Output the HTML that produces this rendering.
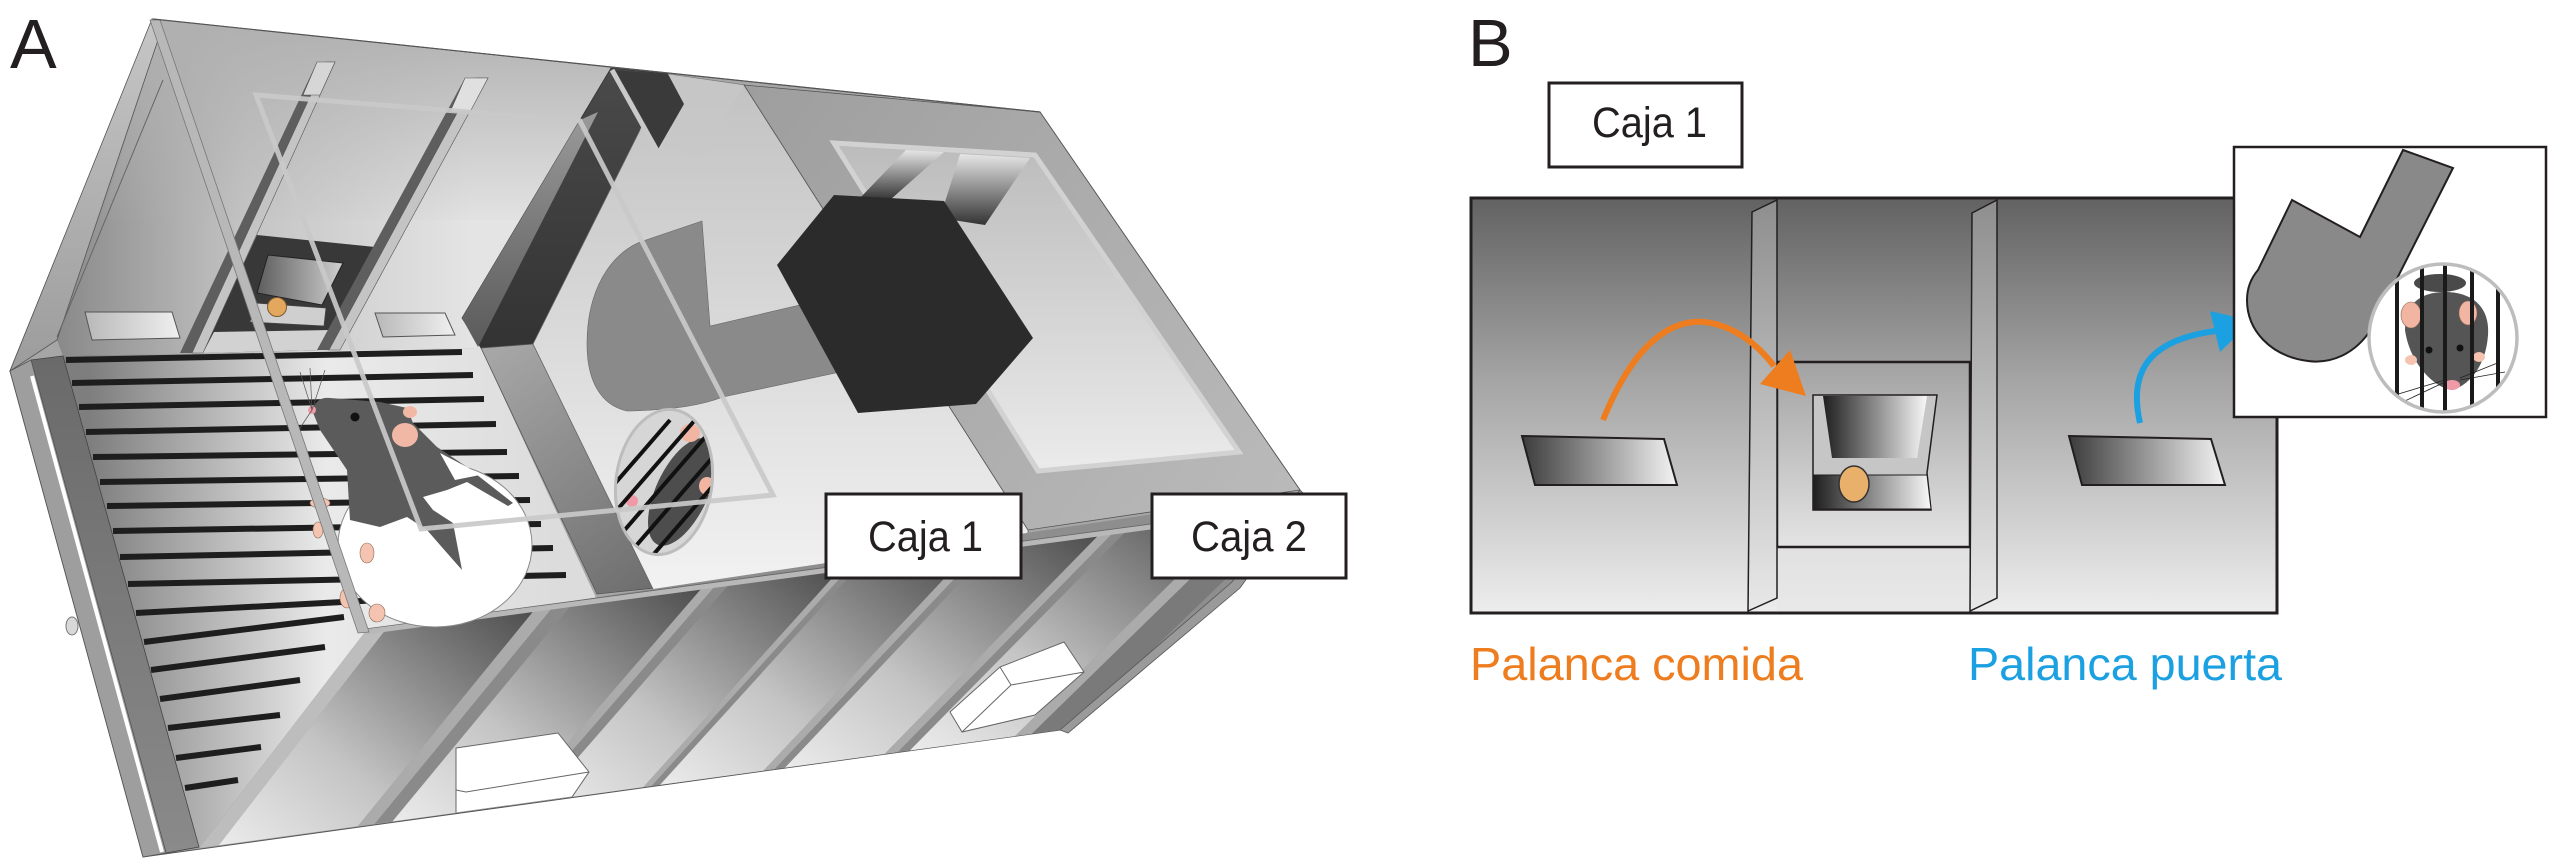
<!DOCTYPE html>
<html><head><meta charset="utf-8"><style>
html,body{margin:0;padding:0;background:#fff;}
svg{display:block;}
text{font-family:"Liberation Sans",Arial,sans-serif;}
</style></head><body>
<svg width="2560" height="867" viewBox="0 0 2560 867" xmlns="http://www.w3.org/2000/svg">
<defs>
<linearGradient id="gBack" gradientUnits="userSpaceOnUse" x1="60" y1="300" x2="470" y2="300"><stop offset="0" stop-color="#8a8a8a"/><stop offset="0.45" stop-color="#c4c4c4"/><stop offset="1" stop-color="#e4e4e4"/></linearGradient>
<linearGradient id="gTopShade" gradientUnits="userSpaceOnUse" x1="0" y1="20" x2="0" y2="230"><stop offset="0" stop-color="#b0b0b0" stop-opacity="1"/><stop offset="1" stop-color="#b0b0b0" stop-opacity="0"/></linearGradient>
<linearGradient id="gLeftFrame" x1="0" y1="0" x2="0" y2="1"><stop offset="0" stop-color="#c6c6c6"/><stop offset="1" stop-color="#9c9c9c"/></linearGradient>
<linearGradient id="gFloor" gradientUnits="userSpaceOnUse" x1="90" y1="0" x2="560" y2="0"><stop offset="0" stop-color="#7e7e7e"/><stop offset="0.5" stop-color="#eaeaea"/><stop offset="1" stop-color="#dcdcdc"/></linearGradient>
<linearGradient id="gDark" x1="0" y1="0" x2="0" y2="1"><stop offset="0" stop-color="#6a6a6a"/><stop offset="1" stop-color="#8a8a8a"/></linearGradient>
<linearGradient id="gSlab" x1="0" y1="0" x2="0" y2="1"><stop offset="0" stop-color="#4a4a4a"/><stop offset="1" stop-color="#333"/></linearGradient>
<linearGradient id="gSlabEdge" x1="0" y1="0" x2="0" y2="1"><stop offset="0" stop-color="#9a9a9a"/><stop offset="1" stop-color="#5a5a5a"/></linearGradient>
<linearGradient id="gFace" gradientUnits="userSpaceOnUse" x1="480" y1="350" x2="650" y2="590"><stop offset="0" stop-color="#a8a8a8"/><stop offset="1" stop-color="#6e6e6e"/></linearGradient>
<linearGradient id="gRFloor" gradientUnits="userSpaceOnUse" x1="0" y1="80" x2="0" y2="590"><stop offset="0" stop-color="#c2c2c2"/><stop offset="1" stop-color="#f2f2f2"/></linearGradient>
<linearGradient id="gLid" gradientUnits="userSpaceOnUse" x1="744" y1="85" x2="1300" y2="500"><stop offset="0" stop-color="#9e9e9e"/><stop offset="1" stop-color="#bababa"/></linearGradient>
<linearGradient id="gLidIn" gradientUnits="userSpaceOnUse" x1="0" y1="145" x2="0" y2="470"><stop offset="0" stop-color="#bcbcbc"/><stop offset="1" stop-color="#ebebeb"/></linearGradient>
<linearGradient id="gPanel" x1="0" y1="1" x2="1" y2="0"><stop offset="0" stop-color="#fbfbfb"/><stop offset="0.45" stop-color="#c4c4c4"/><stop offset="1" stop-color="#4c4c4c"/></linearGradient>
<linearGradient id="gSlot" x1="0" y1="0" x2="1" y2="0"><stop offset="0" stop-color="#b8b8b8"/><stop offset="1" stop-color="#f0f0f0"/></linearGradient>
<linearGradient id="gHopIn" x1="0" y1="0" x2="1" y2="0"><stop offset="0" stop-color="#5d5d5d"/><stop offset="1" stop-color="#d0d0d0"/></linearGradient>
<linearGradient id="gBandA" x1="0" y1="0" x2="0" y2="1"><stop offset="0" stop-color="#e6e6e6"/><stop offset="1" stop-color="#333"/></linearGradient>
<linearGradient id="gB" x1="0" y1="0" x2="0" y2="1"><stop offset="0" stop-color="#626262"/><stop offset="0.45" stop-color="#a6a6a6"/><stop offset="1" stop-color="#ededed"/></linearGradient>
<linearGradient id="gBBar" x1="0" y1="0" x2="0" y2="1"><stop offset="0" stop-color="#8e8e8e"/><stop offset="1" stop-color="#e8e8e8"/></linearGradient>
<linearGradient id="gBHop" x1="0" y1="0" x2="0" y2="1"><stop offset="0" stop-color="#a2a2a2"/><stop offset="1" stop-color="#e4e4e4"/></linearGradient>
<linearGradient id="gLever" x1="0" y1="0" x2="1" y2="0"><stop offset="0" stop-color="#3c3c3c"/><stop offset="1" stop-color="#f4f4f4"/></linearGradient>
<linearGradient id="gHopDark" x1="0" y1="0" x2="1" y2="0"><stop offset="0" stop-color="#1e1e1e"/><stop offset="1" stop-color="#f8f8f8"/></linearGradient>
<clipPath id="frontClip"><polygon points="365,632 1300,492 1232,582 1060,730 199,848"/></clipPath>
<clipPath id="ovalA"><ellipse cx="664" cy="482" rx="48" ry="73" transform="rotate(8 664 482)"/></clipPath>
<clipPath id="circB"><circle cx="2443" cy="338" r="73"/></clipPath>
</defs>

<!-- ===================== PANEL A ===================== -->
<text x="10" y="68" font-size="70" fill="#231f20">A</text>

<polygon points="153,19 1040,112 1300,490 1232,582 1060,730 143,857 10,371" fill="#a6a6a6" stroke="#555" stroke-width="1"/>

<polygon points="152,19 611,68 462,318 481,348 63,356 57,340 158,40" fill="url(#gBack)"/>
<polygon points="152,19 611,68 520,220 100,220 158,40" fill="url(#gTopShade)"/>
<polygon points="152,19 10,371 57,340 158,40" fill="url(#gLeftFrame)" stroke="#555" stroke-width="0.8"/>
<line x1="163" y1="80" x2="57" y2="337" stroke="#666" stroke-width="1"/>

<polygon points="85,312 172,312 180,338 92,340" fill="url(#gSlot)" stroke="#555" stroke-width="1"/>
<polygon points="375,313 445,313 455,335 383,337" fill="url(#gSlot)" stroke="#555" stroke-width="1"/>

<polygon points="257,235 375,247 320,350 203,353" fill="#383838"/>
<polygon points="214,332 331,330 320,350 203,353" fill="#d2d2d2"/>
<polygon points="268,255 343,263 322,305 257,293" fill="url(#gHopIn)" stroke="#222" stroke-width="1"/>
<polygon points="255,303 326,308 324,326 250,322" fill="#cfcfcf" stroke="#444" stroke-width="0.8"/>
<circle cx="277" cy="307" r="9.5" fill="#e3a85e" stroke="#7a5a30" stroke-width="1"/>

<polygon points="317,62 326,62 192,353 180,353" fill="#5e5e5e"/>
<polygon points="326,62 335,62 203,353 192,353" fill="#c4c4c4" stroke="#555" stroke-width="0.6"/>
<polygon points="317,62 335,62 320,95 303,95" fill="#d6d6d6" stroke="#555" stroke-width="0.6"/>
<polygon points="465,78 476,78 329,350 317,350" fill="#5e5e5e"/>
<polygon points="476,78 488,78 340,350 329,350" fill="#c4c4c4" stroke="#555" stroke-width="0.6"/>
<polygon points="465,78 488,78 470,112 450,112" fill="#e0e0e0" stroke="#555" stroke-width="0.6"/>

<polygon points="63,356 481,348 597,600 365,632 199,848" fill="url(#gFloor)"/>
<polygon points="31,360 63,356 199,847 166,853" fill="url(#gDark)" stroke="#444" stroke-width="0.8"/>
<polygon points="10,371 31,360 166,853 143,857" fill="#9e9e9e" stroke="#555" stroke-width="0.8"/>
<line x1="32" y1="376" x2="162" y2="852" stroke="#fff" stroke-width="4"/>
<ellipse cx="72" cy="626" rx="6" ry="9" fill="#d8d8d8" stroke="#777" stroke-width="1"/>

<g stroke="#1e1e1e" stroke-width="6">
<line x1="66" y1="360" x2="462" y2="352"/>
<line x1="72" y1="383" x2="473" y2="375"/>
<line x1="79" y1="407" x2="484" y2="399"/>
<line x1="86" y1="432" x2="496" y2="424"/>
<line x1="93" y1="457" x2="507" y2="452"/>
<line x1="100" y1="482" x2="519" y2="476"/>
<line x1="107" y1="506" x2="530" y2="500"/>
<line x1="113" y1="531" x2="541" y2="524"/>
<line x1="120" y1="557" x2="553" y2="548"/>
<line x1="128" y1="584" x2="566" y2="575"/>
<line x1="136" y1="613" x2="380" y2="600"/>
<line x1="144" y1="642" x2="344" y2="617"/>
<line x1="151" y1="670" x2="325" y2="647"/>
<line x1="160" y1="699" x2="300" y2="680"/>
<line x1="168" y1="728" x2="280" y2="715"/>
<line x1="176" y1="758" x2="261" y2="747"/>
<line x1="185" y1="788" x2="238" y2="780"/>
</g>

<polygon points="611,68 668,74 533,344 481,348 462,318" fill="url(#gSlab)" stroke="#333" stroke-width="0.8"/>
<polygon points="580,120 598,112 478,347 462,318" fill="url(#gSlabEdge)"/>
<polygon points="481,348 533,344 655,588 597,594" fill="url(#gFace)" stroke="#555" stroke-width="0.8"/>

<polygon points="668,74 744,85 1028,530 1028,543 655,593 533,344" fill="url(#gRFloor)" stroke="#666" stroke-width="0.8"/>
<polygon points="668,74 744,85 700,160 640,130" fill="#c8c8c8" opacity="0.7"/>
<polygon points="612,70 668,74 684,104 657,151 633,101" fill="#3a3a3a"/>

<polygon points="744,85 1040,112 1300,490 1028,530" fill="url(#gLid)" stroke="#555" stroke-width="0.8"/>
<polygon points="834,143 1035,155 1239,452 1038,471" fill="url(#gLidIn)" stroke="#d2d2d2" stroke-width="5"/>
<polygon points="906,150 944,152 890,200 860,198" fill="url(#gBandA)"/>
<polygon points="960,154 1030,158 985,225 940,218" fill="url(#gBandA)"/>

<path d="M640,242 L702,221 L710,326 L800,305 L840,372 L723,397 Q690,410 627,411 C600,405 587,380 587,344 C587,290 610,255 640,242 Z" fill="#8a8a8a" stroke="#666" stroke-width="0.6"/>
<polygon points="777,265 834,195 944,201 1033,338 976,404 858,413" fill="#2b2b2b"/>

<g clip-path="url(#ovalA)">
<rect x="600" y="400" width="130" height="170" fill="#d6d6d6"/>
<ellipse cx="682" cy="492" rx="26" ry="58" transform="rotate(25 682 492)" fill="#4d4d4d"/>
<ellipse cx="690" cy="433" rx="10" ry="9" fill="#f2b5a2"/>
<ellipse cx="707" cy="486" rx="8" ry="9" fill="#f2b5a2"/>
<circle cx="632" cy="501" r="6" fill="#f09aa8"/>
<g stroke="#111" stroke-width="4">
<line x1="540" y1="570" x2="670" y2="420"/>
<line x1="565" y1="570" x2="695" y2="420"/>
<line x1="590" y1="570" x2="720" y2="420"/>
<line x1="615" y1="570" x2="745" y2="420"/>
<line x1="640" y1="570" x2="770" y2="420"/>
<line x1="665" y1="570" x2="795" y2="420"/>
</g>
</g>
<ellipse cx="664" cy="482" rx="48" ry="73" transform="rotate(8 664 482)" fill="none" stroke="#bdbdbd" stroke-width="3"/>

<g clip-path="url(#frontClip)">
<polygon points="365,632 1300,492 1232,582 1060,730 199,848" fill="#8e8e8e"/>
<polygon points="365,632 386,629.2 184.8,889.2 165.3,892" fill="#bdbdbd"/>
<polygon points="386,629.2 535,609.3 322.7,869.3 184.8,889.2" fill="url(#gPanel)"/>
<polygon points="535,609.3 553,606.9 339.4,866.9 322.7,869.3" fill="#ababab"/>
<polygon points="553,606.9 572,604.3 357,864.3 339.4,866.9" fill="#8a8a8a"/>
<polygon points="572,604.3 703,586.8 478.2,846.8 357,864.3" fill="url(#gPanel)"/>
<polygon points="703,586.8 716,585.1 490.2,845.1 478.2,846.8" fill="#ababab"/>
<polygon points="716,585.1 730,583.2 503.2,843.2 490.2,845.1" fill="#8a8a8a"/>
<polygon points="730,583.2 841,568.4 606,828.4 503.2,843.2" fill="url(#gPanel)"/>
<polygon points="841,568.4 850,567.2 614.3,827.2 606,828.4" fill="#ababab"/>
<polygon points="850,567.2 859,566 622.6,826 614.3,827.2" fill="#8a8a8a"/>
<polygon points="859,566 970,551.2 725.4,811.2 622.6,826" fill="url(#gPanel)"/>
<polygon points="970,551.2 982,549.6 736.5,809.6 725.4,811.2" fill="#ababab"/>
<polygon points="982,549.6 993,548.1 746.7,808.1 736.5,809.6" fill="#8a8a8a"/>
<polygon points="993,548.1 1100,533.8 845.7,793.8 746.7,808.1" fill="url(#gPanel)"/>
<polygon points="1100,533.8 1114,531.9 858.7,791.9 845.7,793.8" fill="#ababab"/>
<polygon points="1114,531.9 1127,530.2 870.7,790.2 858.7,791.9" fill="#8a8a8a"/>
<polygon points="1127,530.2 1240,515.1 975.3,775.1 870.7,790.2" fill="url(#gPanel)"/>
<polygon points="1240,515.1 1258,512.7 992,772.7 975.3,775.1" fill="#ababab"/>
<polygon points="1258,512.7 1300,507.1 1031,767.1 992,772.7" fill="#7a7a7a"/>
<polygon points="456,748 558,733 589,772 572,797 456,813" fill="#fff" stroke="#666" stroke-width="1"/>
<polyline points="456,790 466,792 589,772" fill="none" stroke="#666" stroke-width="1"/>
<polygon points="950,712 1000,667 1064,642 1084,672 1035,715 962,732" fill="#fff" stroke="#666" stroke-width="1"/>
<polyline points="1000,667 1011,685 1084,672" fill="none" stroke="#666" stroke-width="1"/>
<line x1="1011" y1="685" x2="962" y2="732" stroke="#666" stroke-width="1"/>
</g>
<line x1="365" y1="632" x2="1300" y2="507" stroke="#b8b8b8" stroke-width="5"/>
<line x1="365" y1="629" x2="1300" y2="504" stroke="#666" stroke-width="0.8"/>
<polygon points="1060,730 1232,582 1300,490 1306,496 1240,588 1068,733" fill="#9a9a9a" stroke="#555" stroke-width="0.8"/>

<!-- big mouse -->
<ellipse cx="435" cy="545" rx="97" ry="82" fill="#fff" stroke="#888" stroke-width="1"/>
<path d="M312,410 C316,400 322,397 330,398 L380,402 L407,408 L413,423 L437,447 L467,467 L513,503 L508,506 L467,482 L447,490 L423,497 L433,510 L453,523 L462,570 L440,545 L427,530 L407,517 L380,527 L350,520 L347,470 L320,430 Z" fill="#5b5b5b"/>
<polygon points="440,453 467,467 480,475 455,480" fill="#fff"/>
<ellipse cx="405" cy="435" rx="13" ry="12" fill="#f2b8a6"/>
<ellipse cx="410" cy="412" rx="7" ry="6" fill="#f2b8a6"/>
<circle cx="355" cy="417" r="4.5" fill="#111"/>
<circle cx="312" cy="410" r="4" fill="#f09aa8"/>
<g fill="#f5c4b0" stroke="#8a6a5a" stroke-width="0.6">
<ellipse cx="320" cy="503" rx="10" ry="5"/>
<ellipse cx="318" cy="530" rx="5" ry="8"/>
<ellipse cx="367" cy="553" rx="7" ry="10"/>
<ellipse cx="347" cy="598" rx="7" ry="10"/>
<ellipse cx="377" cy="613" rx="8" ry="9"/>
</g>
<g stroke="#555" stroke-width="0.7" fill="none">
<path d="M312,410 L300,372"/><path d="M312,410 L310,368"/><path d="M312,410 L325,370"/><path d="M312,410 L292,440"/>
</g>

<polygon points="150,20 160,20 369,632 358,633" fill="#b8b8b8" stroke="#777" stroke-width="0.8"/>
<polygon points="256,95 580,121 773,495 421,529" fill="none" stroke="#c9c9c9" stroke-width="5" opacity="0.92"/>
<line x1="612" y1="70" x2="660" y2="156" stroke="#c9c9c9" stroke-width="5"/>

<line x1="153" y1="19" x2="1040" y2="112" stroke="#555" stroke-width="1.2"/>

<rect x="826" y="494" width="195" height="84" fill="#fff" stroke="#231f20" stroke-width="3"/>
<text x="868" y="551" font-size="43" fill="#231f20" textLength="115" lengthAdjust="spacingAndGlyphs">Caja 1</text>
<rect x="1152" y="494" width="194" height="84" fill="#fff" stroke="#231f20" stroke-width="3"/>
<text x="1191" y="551" font-size="43" fill="#231f20" textLength="116" lengthAdjust="spacingAndGlyphs">Caja 2</text>

<!-- ===================== PANEL B ===================== -->
<text x="1468" y="66" font-size="67" fill="#231f20">B</text>
<rect x="1549" y="83" width="193" height="84" fill="#fff" stroke="#231f20" stroke-width="3"/>
<text x="1592" y="137" font-size="43" fill="#231f20" textLength="115" lengthAdjust="spacingAndGlyphs">Caja 1</text>

<rect x="1471" y="198" width="806" height="415" fill="url(#gB)" stroke="#231f20" stroke-width="3"/>
<rect x="1777" y="547" width="192" height="64" fill="#e6e6e6" opacity="0.6"/>
<rect x="1777" y="362" width="193" height="185" fill="url(#gBHop)" stroke="#231f20" stroke-width="2.5"/>
<polygon points="1752,212 1777,200 1777,598 1748,611" fill="url(#gBBar)" stroke="#231f20" stroke-width="1.5"/>
<polygon points="1972,213 1997,200 1997,598 1970,611" fill="url(#gBBar)" stroke="#231f20" stroke-width="1.5"/>
<polygon points="1813,395 1937,395 1927,473 1931,510 1813,510" fill="#c6c6c6" stroke="#231f20" stroke-width="1.5"/>
<polygon points="1823,396 1927,396 1917,458 1832,458" fill="url(#gHopDark)"/>
<polygon points="1814,475 1927,475 1931,509 1813,509" fill="url(#gHopDark)" stroke="#231f20" stroke-width="1"/>
<ellipse cx="1854" cy="484" rx="15" ry="18" fill="#e8b06a" stroke="#333" stroke-width="1.5"/>
<polygon points="1522,436 1664,439 1677,485 1535,485" fill="url(#gLever)" stroke="#231f20" stroke-width="2"/>
<polygon points="2069,436 2211,439 2225,485 2082,485" fill="url(#gLever)" stroke="#231f20" stroke-width="2"/>
<path d="M1603,420 C1628,358 1662,318 1705,322 C1735,326 1758,345 1774,366" fill="none" stroke="#EE7D1F" stroke-width="6"/>
<polygon points="1806,396 1760,384 1790,350" fill="#EE7D1F"/>
<path d="M2140,423 C2128,370 2150,340 2215,331" fill="none" stroke="#1BA0E1" stroke-width="6"/>
<polygon points="2252,321 2210,311 2220,352" fill="#1BA0E1"/>

<rect x="2234" y="147" width="312" height="270" fill="#fff" stroke="#231f20" stroke-width="2.5"/>
<path d="M2403,150 L2453,168 L2372,328 C2355,355 2330,364 2308,361 C2270,356 2247,330 2247,300 C2247,287 2252,277 2258,270 L2292,200 L2360,237 Z" fill="#898989" stroke="#231f20" stroke-width="2"/>
<circle cx="2443" cy="338" r="74" fill="#fff"/>
<g clip-path="url(#circB)">
<ellipse cx="2440" cy="283" rx="26" ry="9" fill="#4a4a4a"/>
<path d="M2405,330 C2405,300 2425,292 2445,292 C2470,292 2490,305 2488,335 C2486,365 2470,385 2452,390 C2435,388 2410,365 2405,330 Z" fill="#555"/>
<ellipse cx="2411" cy="315" rx="10" ry="13" fill="#f2b5a2" stroke="#8a6a5a" stroke-width="0.6"/>
<ellipse cx="2468" cy="313" rx="9" ry="12" fill="#f2b5a2" stroke="#8a6a5a" stroke-width="0.6"/>
<circle cx="2429" cy="350" r="3.5" fill="#111"/>
<circle cx="2460" cy="348" r="3.5" fill="#111"/>
<ellipse cx="2452" cy="385" rx="8" ry="5" fill="#f09aa8"/>
<ellipse cx="2411" cy="360" rx="6" ry="5" fill="#f5c4b0"/>
<ellipse cx="2479" cy="357" rx="6" ry="5" fill="#f5c4b0"/>
<g stroke="#222" stroke-width="0.8" fill="none">
<path d="M2445,380 L2385,398"/><path d="M2445,382 L2390,408"/><path d="M2460,378 L2500,362"/><path d="M2460,380 L2505,372"/>
</g>
<g fill="#1a1a1a">
<rect x="2395" y="260" width="4" height="160"/>
<rect x="2420" y="260" width="4" height="160"/>
<rect x="2443" y="260" width="4" height="160"/>
<rect x="2470" y="260" width="4" height="160"/>
<rect x="2496" y="260" width="4" height="160"/>
</g>
</g>
<circle cx="2443" cy="338" r="74" fill="none" stroke="#bdbdbd" stroke-width="3.5"/>

<text x="1470" y="680" font-size="46" fill="#EE7D1F" textLength="333" lengthAdjust="spacingAndGlyphs">Palanca comida</text>
<text x="1968" y="680" font-size="46" fill="#1BA0E1" textLength="314" lengthAdjust="spacingAndGlyphs">Palanca puerta</text>
</svg>
</body></html>
